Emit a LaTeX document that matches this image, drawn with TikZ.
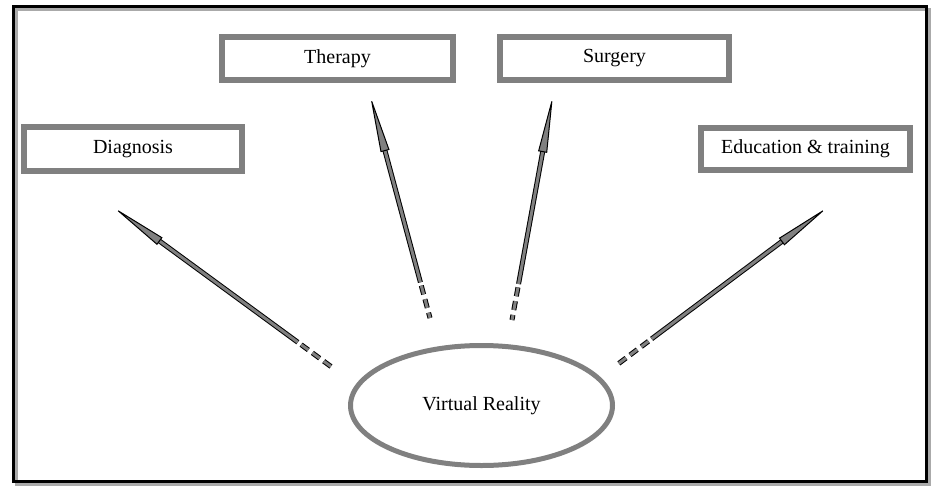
\documentclass[tikz,border=0pt]{standalone}
\usepackage{fontspec}
\setmainfont{Liberation Serif}
\usetikzlibrary{arrows.meta, calc, shapes.geometric}
\definecolor{vrgray}{RGB}{128,128,128}
\definecolor{shadowgray}{RGB}{170,170,170}
\tikzset{
  field/.style={draw=vrgray, line width=6pt, fill=white, inner sep=0pt,
    font=\fontsize{20}{24}\selectfont},
  shaft/.style={draw=vrgray, line width=3pt,
    preaction={draw=black, line width=5pt, -, shorten >=56pt},
    -{Triangle[length=58pt, width=9pt, fill=vrgray, color=black, line width=1pt]}},
  tail/.style={draw=vrgray, line width=3pt, dash pattern=on 9pt off 5pt,
    preaction={draw=black, line width=5pt, dash pattern=on 9pt off 5pt}}
}

\begin{document}
\begin{tikzpicture}[x=1pt, y=-1pt]
    \useasboundingbox (0,0) rectangle (931,487);
    % frame with shadow
    \draw[shadowgray, line width=3pt] (16.5,9.5) rectangle (929.5,484);
    \draw[black, line width=3pt] (13.5,6.5) rectangle (926.5,481);

    \node[field, minimum width=218pt, minimum height=44pt] (diag) at (133,149) {Diagnosis};
    \node[field, minimum width=231pt, minimum height=43pt] (ther) at (337.5,58.5) {Therapy};
    \node[field, minimum width=229pt, minimum height=43pt] (surg) at (614.5,58.5) {Surgery};
    \node[field, minimum width=209pt, minimum height=42pt] (educ) at (805.5,149) {Education \& training};

    \node[ellipse, draw=vrgray, line width=5pt, minimum width=262pt, minimum height=120pt,
      font=\fontsize{20}{24}\selectfont] (vr) at (481.5,405.5) {Virtual Reality};

    \coordinate (dgT) at (333,368);
    \coordinate (dgH) at (113,207);
    \coordinate (thT) at (430,318);
    \coordinate (thH) at (370,95);
    \coordinate (suT) at (512,320);
    \coordinate (suH) at (553,95);
    \coordinate (edT) at (618,364);
    \coordinate (edH) at (828,207);

    \foreach \t/\h in {dgT/dgH, thT/thH, suT/suH, edT/edH} {
      \draw[tail] ($(\t)!0.145!(\h)$) -- (\t);
      \draw[shaft] ($(\t)!0.16!(\h)$) -- (\h);
    }
\end{tikzpicture}
\end{document}
